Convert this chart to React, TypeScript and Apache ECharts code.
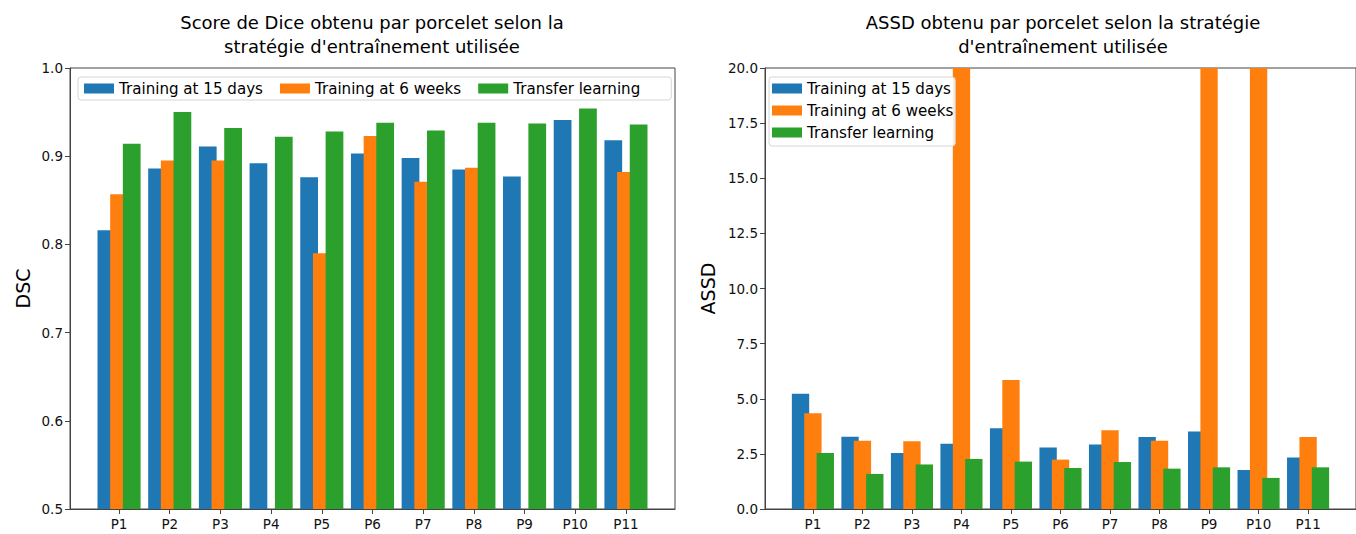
import { useEffect, useRef } from 'react';
import * as echarts from 'echarts';

const categories = ['P1', 'P2', 'P3', 'P4', 'P5', 'P6', 'P7', 'P8', 'P9', 'P10', 'P11'];
const seriesNames = ['Training at 15 days', 'Training at 6 weeks', 'Transfer learning'];

const dscTraining15 = [0.816, 0.886, 0.911, 0.892, 0.876, 0.903, 0.898, 0.885, 0.877, 0.941, 0.918];
const dscTraining6w = [0.857, 0.895, 0.895, null, 0.790, 0.923, 0.871, 0.887, null, null, 0.882];
const dscTransfer = [0.914, 0.950, 0.932, 0.922, 0.928, 0.938, 0.929, 0.938, 0.937, 0.954, 0.936];

const assdTraining15 = [5.23, 3.28, 2.54, 2.96, 3.66, 2.79, 2.93, 3.27, 3.51, 1.77, 2.33];
const assdTraining6w = [4.34, 3.10, 3.07, 25, 5.85, 2.24, 3.57, 3.10, 25, 25, 3.27];
const assdTransfer = [2.54, 1.59, 2.02, 2.27, 2.15, 1.86, 2.13, 1.83, 1.89, 1.41, 1.89];

const colors = ['#1f77b4', '#ff7f0e', '#2ca02c'];
const FONT = '"DejaVu Sans", sans-serif';
const X_MIN = -0.9675;
const X_MAX = 10.9675;
const AXIS_COLOR = '#444';

function makeXAxis(gridIndex: number) {
  const ticks = categories.map((_, i) => i);
  return {
    gridIndex,
    type: 'value',
    min: X_MIN,
    max: X_MAX,
    axisLine: { show: true, onZero: false, lineStyle: { color: AXIS_COLOR, width: 1 } },
    axisTick: { show: true, customValues: ticks, length: 5, lineStyle: { color: AXIS_COLOR } },
    axisLabel: {
      customValues: ticks,
      formatter: (v: number) => categories[Math.round(v)] ?? '',
      color: '#111',
      fontSize: 13.5,
      fontFamily: FONT,
      margin: 8,
    },
    splitLine: { show: false },
  };
}

function makeYAxis(gridIndex: number, min: number, max: number, interval: number, name: string, nameGap: number) {
  return {
    gridIndex,
    type: 'value',
    min,
    max,
    interval,
    name,
    nameLocation: 'middle',
    nameRotate: 90,
    nameGap,
    nameTextStyle: { fontSize: 19, color: '#000', fontFamily: FONT },
    axisLine: { show: true, onZero: false, lineStyle: { color: AXIS_COLOR, width: 1 } },
    axisTick: { show: true, length: 5, lineStyle: { color: AXIS_COLOR } },
    axisLabel: {
      formatter: (v: number) => v.toFixed(1),
      color: '#111',
      fontSize: 13.5,
      fontFamily: FONT,
      margin: 7,
    },
    splitLine: { show: false },
  };
}

function makeSeries(name: string, values: (number | null)[], color: string, idx: number) {
  return {
    type: 'bar',
    name,
    xAxisIndex: idx,
    yAxisIndex: idx,
    data: values.map((v, i) => [i, v == null ? '-' : v]),
    barWidth: '35%',
    barGap: '-28.57%',
    itemStyle: { color },
    clip: true,
  };
}

export default function App() {
  const ref = useRef<HTMLDivElement>(null);
  useEffect(() => {
    document.body.style.margin = '0';
    document.body.style.overflow = 'hidden';
    const chart = echarts.init(ref.current!, null, { renderer: 'svg' });
    const legendText = { fontSize: 15.1, color: '#000', fontFamily: FONT };
    chart.setOption({
      animation: false,
      backgroundColor: '#fff',
      textStyle: { fontFamily: FONT },
      title: [
        {
          text: "Score de Dice obtenu par porcelet selon la\nstratégie d'entraînement utilisée",
          left: 372,
          top: 10,
          padding: 0,
          textAlign: 'center',
          textStyle: { fontSize: 18, fontWeight: 'normal', color: '#000', lineHeight: 24, fontFamily: FONT },
        },
        {
          text: "ASSD obtenu par porcelet selon la stratégie\nd'entraînement utilisée",
          left: 1063,
          top: 10,
          padding: 0,
          textAlign: 'center',
          textStyle: { fontSize: 18, fontWeight: 'normal', color: '#000', lineHeight: 24, fontFamily: FONT },
        },
      ],
      legend: [
        {
          orient: 'horizontal',
          left: 78,
          top: 77,
          icon: 'rect',
          itemWidth: 30,
          itemHeight: 10,
          itemGap: 17,
          padding: [4, 31, 4, 6],
          borderColor: '#d6d6d6',
          borderWidth: 1,
          borderRadius: 3,
          backgroundColor: 'rgba(255,255,255,0.85)',
          textStyle: legendText,
          data: seriesNames,
        },
        {
          orient: 'vertical',
          left: 769,
          top: 77,
          icon: 'rect',
          itemWidth: 30,
          itemHeight: 10,
          itemGap: 7,
          padding: [4, 2, 6, 3],
          borderColor: '#d6d6d6',
          borderWidth: 1,
          borderRadius: 3,
          backgroundColor: 'rgba(255,255,255,0.85)',
          textStyle: legendText,
          data: seriesNames,
        },
      ],
      grid: [
        { left: 70, top: 68, width: 605, height: 441, show: true, borderColor: AXIS_COLOR, borderWidth: 1, backgroundColor: '#fff' },
        { left: 765, top: 68, width: 597, height: 441, show: true, borderColor: AXIS_COLOR, borderWidth: 1, backgroundColor: '#fff' },
      ],
      xAxis: [makeXAxis(0), makeXAxis(1)],
      yAxis: [makeYAxis(0, 0.5, 1.0, 0.1, 'DSC', 38), makeYAxis(1, 0, 20, 2.5, 'ASSD', 48)],
      series: [
        makeSeries(seriesNames[0], dscTraining15, colors[0], 0),
        makeSeries(seriesNames[1], dscTraining6w, colors[1], 0),
        makeSeries(seriesNames[2], dscTransfer, colors[2], 0),
        makeSeries(seriesNames[0], assdTraining15, colors[0], 1),
        makeSeries(seriesNames[1], assdTraining6w, colors[1], 1),
        makeSeries(seriesNames[2], assdTransfer, colors[2], 1),
      ],
    });
    return () => chart.dispose();
  }, []);
  return <div ref={ref} style={{ width: 1356, height: 534 }} />;
}
